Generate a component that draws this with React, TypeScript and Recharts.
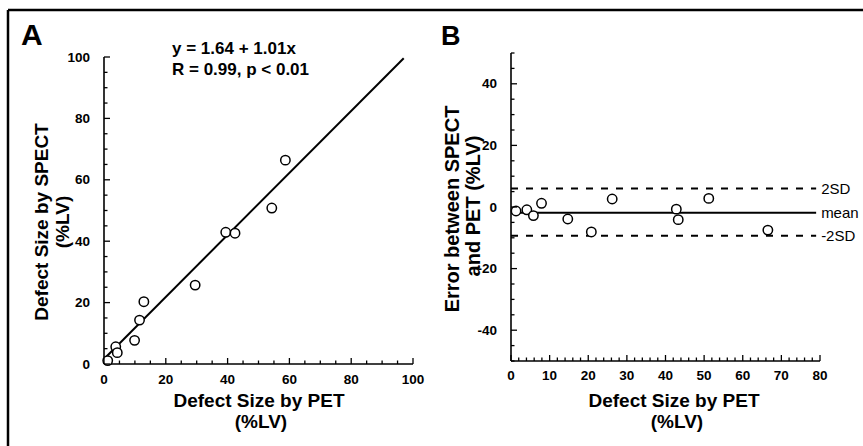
import React from 'react'
import { ScatterChart, Scatter, XAxis, YAxis, ReferenceLine } from 'recharts'

const FONT = '"Liberation Sans", Arial, Helvetica, sans-serif'

// A: defect size, PET (x) vs SPECT (y), %LV
const petA = [1.2, 3.8, 4.3, 9.9, 11.5, 12.9, 29.5, 39.4, 42.4, 54.3, 58.7]
const spectA = [1.1, 5.6, 3.7, 7.7, 14.3, 20.3, 25.7, 42.9, 42.6, 50.8, 66.4]
const FIT_INTERCEPT = 1.64
const FIT_SLOPE = 1.01
const FIT_RANGE = [0, 97]
const ticksA = [0, 5, 10, 15, 20, 25, 30, 35, 40, 45, 50, 55, 60, 65, 70, 75, 80, 85, 90, 95, 100]
const labelsA = [0, 20, 40, 60, 80, 100]

// B: error between SPECT and PET
const petB = [1.3, 4.1, 5.8, 7.9, 14.7, 20.8, 26.2, 42.8, 43.3, 51.2, 66.5]
const errB = [-1.3, -0.9, -2.8, 1.2, -3.9, -8.1, 2.6, -0.7, -4.1, 2.8, -7.5]
const MEAN_ERR = -1.9
const SD2_UP = 6.0
const SD2_DOWN = -9.3
const LINE_RANGE_B = [0, 79]
const ticksBx = Array.from({ length: 41 }, (_, i) => i * 2)
const labelsBx = [0, 10, 20, 30, 40, 50, 60, 70, 80]
const ticksBy = Array.from({ length: 21 }, (_, i) => -50 + i * 5)
const labelsBy = [-40, -20, 0, 20, 40]

const dataA = petA.map((x, i) => ({ x, y: spectA[i] }))
const dataB = petB.map((x, i) => ({ x, y: errB[i] }))

const tickText = { fontFamily: FONT, fontWeight: 700, fontSize: 13.5, fill: '#000' }

// inward ticks: labelled ones longer
const yTick = (labels: number[]) => (props: any) => {
  const { x, y, payload } = props
  const lab = labels.includes(payload.value)
  return (
    <g>
      <line x1={x} x2={x + (lab ? 6 : 3.5)} y1={y} y2={y} stroke="#000" strokeWidth={1.3} />
      {lab && (
        <text x={x - 14} y={y} dy={4.5} textAnchor="end" style={tickText}>{payload.value}</text>
      )}
    </g>
  )
}

const xTick = (labels: number[], dy: number) => (props: any) => {
  const { x, y, payload } = props
  const lab = labels.includes(payload.value)
  return (
    <g>
      <line x1={x} x2={x} y1={y} y2={y - (lab ? 6 : 3.5)} stroke="#000" strokeWidth={1.3} />
      {lab && (
        <text x={x} y={y + dy} textAnchor="middle" style={tickText}>{payload.value}</text>
      )}
    </g>
  )
}

const OpenCircle = (props: any) => (
  <circle cx={props.cx} cy={props.cy} r={4.7} fill="#fff" stroke="#000" strokeWidth={1.5} />
)

const sdLabel = (value: string) => ({
  value,
  position: 'right' as const,
  offset: 5,
  fill: '#000',
  fontSize: 15,
  fontFamily: FONT,
})

export default function App() {
  const axisLine = { stroke: '#000', strokeWidth: 1.6 }
  const title = { fontFamily: FONT, fontWeight: 700, fill: '#000' }
  return (
    <div style={{ position: 'absolute', left: 0, top: 0, width: 863, height: 446, background: '#fff' }}>
      <div style={{ position: 'absolute', left: 0, top: 0 }}>
        <ScatterChart width={430} height={446} margin={{ top: 57, right: 17, bottom: 52, left: 54 }}>
          <XAxis
            type="number" dataKey="x" domain={[0, 100]} ticks={ticksA} interval={0}
            height={30} axisLine={axisLine} tickLine={false} tickSize={0} tickMargin={0}
            tick={xTick(labelsA, 20)}
          />
          <YAxis
            type="number" dataKey="y" domain={[0, 100]} ticks={ticksA} interval={0}
            width={50} axisLine={axisLine} tickLine={false} tickSize={0} tickMargin={0}
            tick={yTick(labelsA)}
          />
          <ReferenceLine
            segment={FIT_RANGE.map(x => ({ x, y: FIT_INTERCEPT + FIT_SLOPE * x }))}
            stroke="#000" strokeWidth={2}
          />
          <Scatter data={dataA} shape={OpenCircle} isAnimationActive={false} />
        </ScatterChart>
      </div>
      <div style={{ position: 'absolute', left: 430, top: 0 }}>
        <ScatterChart width={433} height={446} margin={{ top: 53, right: 43, bottom: 55, left: 31 }}>
          <XAxis
            type="number" dataKey="x" domain={[0, 80]} ticks={ticksBx} interval={0}
            height={30} axisLine={axisLine} tickLine={false} tickSize={0} tickMargin={0}
            tick={xTick(labelsBx, 19)}
          />
          <YAxis
            type="number" dataKey="y" domain={[-50, 50]} ticks={ticksBy} interval={0}
            width={50} axisLine={axisLine} tickLine={false} tickSize={0} tickMargin={0}
            tick={yTick(labelsBy)}
          />
          <ReferenceLine
            segment={LINE_RANGE_B.map(x => ({ x, y: SD2_UP }))}
            stroke="#000" strokeWidth={2} strokeDasharray="7 8" label={sdLabel('2SD')}
          />
          <ReferenceLine
            segment={LINE_RANGE_B.map(x => ({ x, y: MEAN_ERR }))}
            stroke="#000" strokeWidth={2} label={sdLabel('mean')}
          />
          <ReferenceLine
            segment={LINE_RANGE_B.map(x => ({ x, y: SD2_DOWN }))}
            stroke="#000" strokeWidth={2} strokeDasharray="7 8" label={sdLabel('-2SD')}
          />
          <Scatter data={dataB} shape={OpenCircle} isAnimationActive={false} />
        </ScatterChart>
      </div>
      <svg width={863} height={446} style={{ position: 'absolute', left: 0, top: 0, pointerEvents: 'none' }}>
        <line x1={8} x2={863} y1={10} y2={10} stroke="#000" strokeWidth={2.5} />
        <line x1={8} x2={8} y1={10} y2={446} stroke="#000" strokeWidth={2.5} />
        <text x={21} y={45} style={{ ...title, fontSize: 30 }}>A</text>
        <text x={441} y={45} style={{ ...title, fontSize: 27 }}>B</text>
        <text x={172} y={54} style={{ ...title, fontSize: 17 }}>y = 1.64 + 1.01x</text>
        <text x={172} y={75} style={{ ...title, fontSize: 17 }}>R = 0.99, p &lt; 0.01</text>
        {/* axis titles */}
        <text x={259} y={407} textAnchor="middle" style={{ ...title, fontSize: 19 }}>Defect Size by PET</text>
        <text x={261} y={428} textAnchor="middle" style={{ ...title, fontSize: 19 }}>(%LV)</text>
        <text transform="translate(48,222) rotate(-90)" textAnchor="middle" style={{ ...title, fontSize: 19 }}>Defect Size by SPECT</text>
        <text transform="translate(69,222) rotate(-90)" textAnchor="middle" style={{ ...title, fontSize: 19 }}>(%LV)</text>
        <text x={674} y={407} textAnchor="middle" style={{ ...title, fontSize: 19 }}>Defect Size by PET</text>
        <text x={677} y={428} textAnchor="middle" style={{ ...title, fontSize: 19 }}>(%LV)</text>
        <text transform="translate(459,209) rotate(-90)" textAnchor="middle" style={{ ...title, fontSize: 20 }}>Error between SPECT</text>
        <text transform="translate(480,206) rotate(-90)" textAnchor="middle" style={{ ...title, fontSize: 20 }}>and PET (%LV)</text>
      </svg>
    </div>
  )
}
